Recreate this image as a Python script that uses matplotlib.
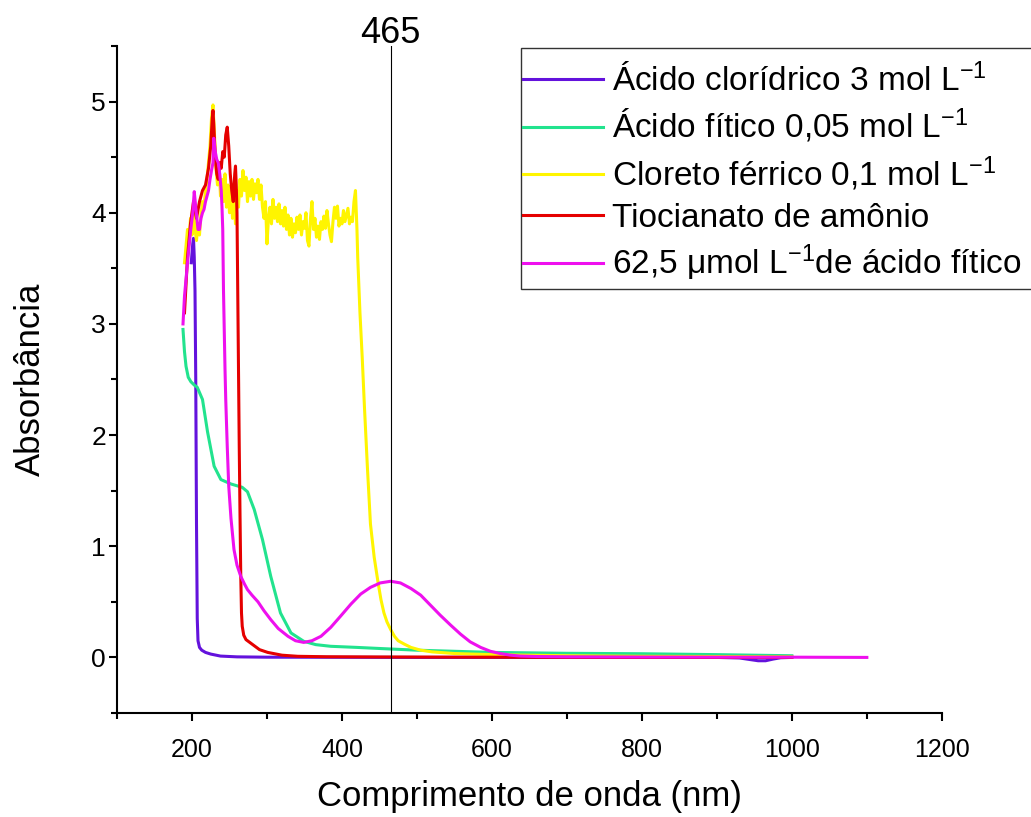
import matplotlib
matplotlib.use('Agg')
import matplotlib.pyplot as plt
from matplotlib.patches import Rectangle
from matplotlib.ticker import MultipleLocator

plt.rcParams['font.family'] = ['Liberation Sans', 'DejaVu Sans']
plt.rcParams['mathtext.fontset'] = 'custom'
plt.rcParams['mathtext.rm'] = 'Liberation Sans'
plt.rcParams['mathtext.it'] = 'Liberation Sans:italic'

# HCl 3 mol/L
hcl_x = [199, 201, 202, 203, 204, 205, 206, 207, 208, 210, 213, 218, 225, 238, 260, 300,
         500, 900, 930, 945, 955, 965, 975, 985, 1000]
hcl_y = [3.55, 3.72, 3.77, 3.6, 3.3, 2.5, 1.2, 0.35, 0.15, 0.09, 0.065, 0.045, 0.03, 0.012,
         0.005, 0.002, 0.0, 0.0, -0.005, -0.02, -0.03, -0.03, -0.015, -0.003, 0.0]

# phytic acid 0.05 mol/L
fitico_x = [188, 190, 192, 195, 198.5, 203, 207, 214, 220.7, 229.5, 238.5, 252, 267, 274,
            283, 294, 305, 318, 332, 349, 365, 385, 420, 451, 500, 550, 600, 700, 800,
            900, 1000]
fitico_y = [2.95, 2.75, 2.62, 2.52, 2.48, 2.45, 2.43, 2.32, 2.03, 1.72, 1.6, 1.56, 1.53,
            1.49, 1.33, 1.06, 0.73, 0.4, 0.22, 0.145, 0.115, 0.1, 0.09, 0.08, 0.065,
            0.055, 0.045, 0.037, 0.033, 0.025, 0.015]

# FeCl3 0.1 mol/L
ferrico_x = [190, 192, 194, 196, 198, 200, 202, 204, 206, 208, 210, 212, 214, 216, 218,
             220, 222, 224, 226, 228,
             230, 232, 234, 236, 238, 240, 242, 244, 246, 248, 250, 252, 254, 256, 258,
             260, 262, 264, 266, 268, 270, 272, 274, 276, 278, 280, 282, 284, 286, 288,
             290, 292, 294, 296, 298, 300, 302, 304, 306, 308, 310, 312, 314, 316, 318,
             320, 322, 324, 326, 328, 330, 332, 334, 336, 338, 340, 342, 344, 346, 348,
             350, 352, 354, 356, 358, 360, 362, 364, 366, 368, 370, 372, 374, 376, 378,
             380, 382, 384, 386, 388, 390, 392, 394, 396, 398, 400, 402, 404, 406, 408,
             410, 412, 414, 416, 418, 420,
             421, 424, 427, 430, 434, 438, 443, 448, 452, 456, 460, 465, 470, 475, 483,
             492, 505, 520, 550, 600, 700, 800, 900, 1000]
ferrico_y = [3.55, 3.7, 3.85, 3.75, 3.95, 3.8, 4.05, 3.85, 3.75, 3.9, 3.8, 4.0, 4.1, 4.05,
             4.2, 4.3, 4.45, 4.6, 4.85, 4.97,
             4.7, 4.4, 4.25, 4.45, 4.15, 4.3, 4.1, 4.35, 4.05, 4.25, 4.0, 4.2, 3.95, 4.15,
             3.9, 4.2, 4.05, 4.3, 4.15, 4.38, 4.2, 4.32, 4.1, 4.28, 4.15, 4.3, 4.12, 4.26,
             4.18, 4.3, 4.12, 4.25, 4.05, 3.95, 4.1, 3.72, 3.95, 4.05, 3.9, 4.12, 3.95,
             4.05, 3.92, 4.08, 3.9, 4.02, 3.88, 4.05, 3.85, 3.98, 3.8, 3.95, 3.78, 3.9,
             3.82, 3.96, 3.85, 3.98, 3.8, 3.92, 3.86, 4.0, 3.75, 3.7, 3.95, 4.1, 3.85, 3.95,
             3.78, 3.88, 3.76, 3.92, 3.85, 3.97, 3.86, 4.02, 3.9, 3.8, 3.74, 3.92, 4.05,
             3.95, 4.06, 3.88, 3.95, 3.9, 4.02, 3.92, 3.98, 4.04, 3.9, 3.96, 3.92, 4.1,
             4.2, 3.85,
             3.6, 3.1, 2.7, 2.25, 1.7, 1.2, 0.9, 0.68, 0.52, 0.4, 0.32, 0.25, 0.19, 0.15,
             0.12, 0.09, 0.065, 0.05, 0.035, 0.025, 0.015, 0.01, 0.008, 0.005]

# ammonium thiocyanate
tiocianato_x = [190, 194, 198, 202, 206, 210, 214, 218, 222, 225, 227, 228, 229, 231, 233,
                235, 237, 239, 241, 243, 245, 247, 249, 251, 253, 255, 257, 258, 259, 260,
                261, 262, 263, 264, 265, 266, 267, 269, 272, 278, 290, 301, 320, 341, 380,
                450, 600, 800, 1000]
tiocianato_y = [3.1, 3.6, 3.9, 4.1, 3.95, 4.1, 4.2, 4.25, 4.4, 4.6, 4.85, 4.92, 4.8, 4.5,
                4.35, 4.3, 4.45, 4.4, 4.55, 4.5, 4.7, 4.77, 4.6, 4.35, 4.2, 4.1, 4.35, 4.42,
                4.25, 4.0, 3.3, 2.6, 1.9, 1.3, 0.75, 0.4, 0.28, 0.2, 0.16, 0.13, 0.07,
                0.045, 0.02, 0.01, 0.006, 0.004, 0.002, 0.0, 0.0]

# 62.5 umol/L phytic acid complex
complexo_x = [188, 190, 194, 198, 201, 203, 205, 208, 210, 212, 214, 216, 218, 220, 222,
              224, 226, 228, 229, 231, 233, 235, 237, 239, 240, 241, 242, 243, 244, 245,
              247, 249, 252, 256, 260, 265, 270, 274, 280, 288, 296, 305, 315, 328, 338,
              349, 360, 372, 385, 398, 412, 425, 438, 451, 465, 478, 492, 505, 518, 531,
              545, 558, 571, 585, 598, 611, 625, 638, 660, 700, 800, 900, 1000, 1100]
complexo_y = [3.0, 3.25, 3.55, 3.83, 4.0, 4.19, 4.05, 3.85, 3.85, 3.95, 4.0, 4.03, 4.1,
              4.15, 4.2, 4.3, 4.38, 4.45, 4.67, 4.55, 4.48, 4.45, 4.35, 4.2, 4.05, 3.85,
              3.3, 2.95, 2.6, 2.32, 1.9, 1.54, 1.25, 0.97, 0.83, 0.73, 0.66, 0.61, 0.56,
              0.5, 0.42, 0.34, 0.26, 0.19, 0.15, 0.135, 0.15, 0.19, 0.27, 0.37, 0.48, 0.57,
              0.63, 0.67, 0.685, 0.67, 0.62, 0.56, 0.47, 0.38, 0.29, 0.21, 0.14, 0.09,
              0.055, 0.035, 0.02, 0.012, 0.008, 0.005, 0.003, 0.002, 0.002, 0.0]

legenda = ['Ácido clorídrico 3 mol L$^{-1}$',
           'Ácido fítico 0,05 mol L$^{-1}$',
           'Cloreto férrico 0,1 mol L$^{-1}$',
           'Tiocianato de amônio',
           '62,5 μmol L$^{-1}$de ácido fítico']
cores = ['#6312DC', '#22E38E', '#FFF500', '#E50000', '#EE10EE']
pico = 465

fig = plt.figure(figsize=(10.31, 8.17), dpi=100)
ax = fig.add_axes([0.1135, 0.1273, 0.800, 0.8164])

series = [(hcl_x, hcl_y), (fitico_x, fitico_y), (ferrico_x, ferrico_y),
          (tiocianato_x, tiocianato_y), (complexo_x, complexo_y)]
for (xs, ys), nome, cor in zip(series, legenda, cores):
    ax.plot(xs, ys, color=cor, lw=2.2, label=nome)

ax.axvline(pico, color='black', lw=0.8)
ax.text(pico, 5.53, str(pico), ha='center', va='baseline', fontsize=26, clip_on=False)

ax.set_xlim(100, 1200)
ax.set_ylim(-0.5, 5.5)
ax.xaxis.set_major_locator(MultipleLocator(200))
ax.xaxis.set_minor_locator(MultipleLocator(100))
ax.yaxis.set_major_locator(MultipleLocator(1))
ax.yaxis.set_minor_locator(MultipleLocator(0.5))

for lado in ['top', 'right']:
    ax.spines[lado].set_visible(False)
for lado in ['left', 'bottom']:
    ax.spines[lado].set_linewidth(1.5)

ax.tick_params(which='major', direction='out', length=6, width=1.5, labelsize=18)
ax.tick_params(which='minor', direction='out', length=4, width=1.5)
ax.tick_params(axis='x', which='major', pad=12)
ax.tick_params(axis='y', which='major', pad=2, labelsize=19)

ax.set_xlabel('Comprimento de onda (nm)', fontsize=25, labelpad=13)
ax.set_ylabel('Absorbância', fontsize=25, labelpad=32)

# legend box runs off the right edge of the figure
fig.patches.append(Rectangle((0.5053, 0.6463), 0.6, 0.295, transform=fig.transFigure,
                             facecolor='white', edgecolor='#333333', lw=1.0, zorder=2))
leg = fig.legend(loc='upper left', bbox_to_anchor=(0.507, 0.922), fontsize=24,
                 frameon=False, borderaxespad=0, handlelength=2.4, handletextpad=0.28,
                 labelspacing=0.28, borderpad=0)
leg.set_zorder(3)

fig.savefig('out.png', dpi=100)
